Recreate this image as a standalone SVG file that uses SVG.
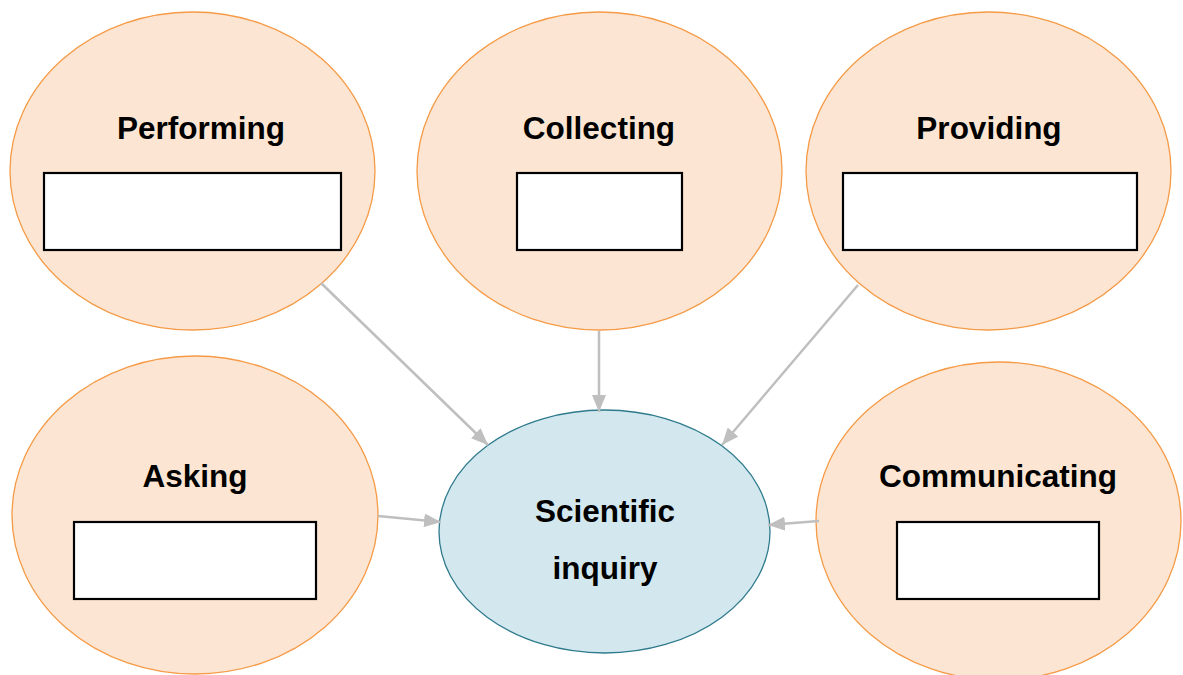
<svg xmlns="http://www.w3.org/2000/svg" width="1183" height="675" viewBox="0 0 1183 675">
  <style>
    .skill ellipse { fill: #FCE6D3; stroke: #F59A46; stroke-width: 1.3; }
    .skill rect { fill: #FFFFFF; stroke: #000000; stroke-width: 2.2; }
    .hub ellipse { fill: #D2E8EE; stroke: #2E7A8C; stroke-width: 1.3; }
    text { font-family: "Liberation Sans", Arial, sans-serif; font-weight: bold; font-size: 31.5px; fill: #000000; text-anchor: middle; }
    .link { stroke: #BFBFBF; stroke-width: 2.5; fill: none; marker-end: url(#head); }
  </style>
  <defs>
    <marker id="head" markerUnits="userSpaceOnUse" markerWidth="18" markerHeight="14" refX="17" refY="7" orient="auto">
      <path d="M0,0 L17,7 L0,14 Z" fill="#BFBFBF"/>
    </marker>
  </defs>

  <g id="performing" class="skill">
    <ellipse cx="192.5" cy="171" rx="182.5" ry="159"/>
    <text x="201" y="139">Performing</text>
    <rect x="44" y="173" width="297" height="77"/>
  </g>

  <g id="collecting" class="skill">
    <ellipse cx="599.5" cy="171" rx="182.5" ry="159"/>
    <text x="599" y="139">Collecting</text>
    <rect x="517" y="173" width="165" height="77"/>
  </g>

  <g id="providing" class="skill">
    <ellipse cx="988.5" cy="171" rx="182.5" ry="159"/>
    <text x="989" y="139">Providing</text>
    <rect x="843" y="173" width="294" height="77"/>
  </g>

  <g id="asking" class="skill">
    <ellipse cx="195" cy="515" rx="183" ry="159"/>
    <text x="195" y="487">Asking</text>
    <rect x="74" y="522" width="242" height="77"/>
  </g>

  <g id="communicating" class="skill">
    <ellipse cx="998.5" cy="521" rx="182.5" ry="159"/>
    <text x="998" y="487">Communicating</text>
    <rect x="897" y="522" width="202" height="77"/>
  </g>

  <g id="scientific-inquiry" class="hub">
    <ellipse cx="604.5" cy="531.5" rx="165.5" ry="121.5"/>
    <text x="605" y="522">Scientific</text>
    <text x="605" y="579">inquiry</text>
  </g>

  <g id="connectors">
    <line class="link" x1="321" y1="283" x2="488" y2="445"/>
    <line class="link" x1="599" y1="331" x2="599" y2="412"/>
    <line class="link" x1="858" y1="285" x2="722" y2="445"/>
    <line class="link" x1="378" y1="516" x2="441" y2="522"/>
    <line class="link" x1="819" y1="521" x2="768" y2="525"/>
  </g>
</svg>
